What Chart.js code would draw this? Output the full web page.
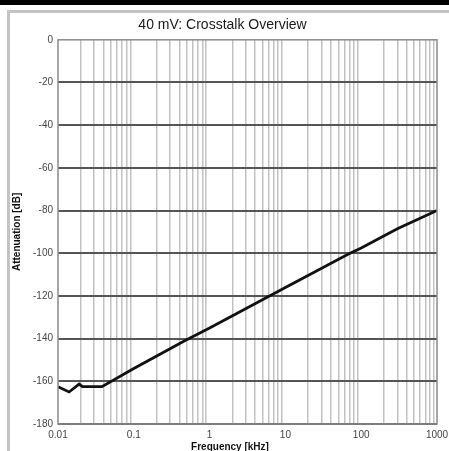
<!DOCTYPE html>
<html>
<head>
<meta charset="utf-8">
<script src="https://cdn.jsdelivr.net/npm/chart.js@4/dist/chart.umd.min.js"></script>
<style>
  body { margin: 0; background: #fff; }
  #wrap { position: relative; width: 449px; height: 451px; overflow: hidden; }
  #topbar { position: absolute; left: 0; top: 0; width: 449px; height: 5px; background: #000; }
  #frame { position: absolute; left: 7px; top: 10px; width: 460px; height: 460px;
           border-left: 3px solid #c4c4c4; border-top: 3px solid #c4c4c4; }
  canvas { position: absolute; left: 0; top: 0; }
</style>
</head>
<body>
<div id="wrap">
  <div id="topbar"></div>
  <div id="frame"></div>
  <canvas id="crosstalk-chart"></canvas>
</div>
<script>
const chartTitle = '40 mV: Crosstalk Overview';
const xTitle = 'Frequency [kHz]';
const yTitle = 'Attenuation [dB]';

// frequency in kHz, attenuation in dB
const freq = [0.01, 0.014, 0.019, 0.021, 0.038, 0.1, 0.47, 1, 10, 67, 100, 300, 1000];
const atten = [-162.5, -165, -161.3, -162.5, -162.5, -154, -141, -135, -116, -100.5, -97.5, -88.5, -80];

const xDecades = [0.01, 0.1, 1, 10, 100, 1000];
const xTickLabels = ['0.01', '0.1', '1', '10', '100', '1000'];
const yTicks = [0, -20, -40, -60, -80, -100, -120, -140, -160, -180];

function isDecade(v) {
    const l = Math.log10(v);
    return Math.abs(l - Math.round(l)) < 1e-9;
}

// border round the plot area + x axis title
const framePlugin = {
    id: 'framePlugin',
    afterDraw(chart) {
        const { ctx, chartArea } = chart;
        ctx.save();
        ctx.strokeStyle = '#8a8a8a';
        ctx.lineWidth = 1.5;
        ctx.strokeRect(chartArea.left, chartArea.top, chartArea.right - chartArea.left, chartArea.bottom - chartArea.top);
        ctx.fillStyle = '#111';
        ctx.font = 'bold 10px "Liberation Sans", Arial, sans-serif';
        ctx.textAlign = 'center';
        ctx.textBaseline = 'middle';
        ctx.fillText(xTitle, 230, 447);
        ctx.restore();
    }
};

const ctx = document.getElementById('crosstalk-chart').getContext('2d');
new Chart(ctx, {
    type: 'line',
    data: {
        datasets: [{
            label: 'Crosstalk',
            data: freq.map((f, i) => ({ x: f, y: atten[i] })),
            borderColor: '#111',
            borderWidth: 2.8,
            pointRadius: 0,
            tension: 0,
            fill: false
        }]
    },
    options: {
        responsive: true,
        maintainAspectRatio: false,
        animation: false,
        layout: { padding: { left: 8, right: 12, top: 0, bottom: 0 } },
        plugins: {
            legend: { display: false },
            tooltip: { enabled: false },
            title: {
                display: true,
                text: chartTitle,
                color: '#1a1a1a',
                font: { family: '"Liberation Sans", Arial, sans-serif', size: 14, weight: 'normal' },
                padding: { top: 17, bottom: 6 }
            }
        },
        scales: {
            x: {
                type: 'logarithmic',
                min: 0.01,
                max: 1000,
                border: { display: false },
                afterFit: s => { s.height = 27; s.paddingLeft = 0; s.paddingRight = 0; },
                afterBuildTicks: s => {
                    const ticks = [];
                    for (let e = -2; e <= 2; e++) {
                        for (let m = 1; m <= 9; m++) ticks.push({ value: m * Math.pow(10, e) });
                    }
                    ticks.push({ value: 1000 });
                    s.ticks = ticks;
                },
                grid: {
                    drawTicks: false,
                    lineWidth: 1.5,
                    color: c => isDecade(c.tick.value) ? 'rgba(0,0,0,0)' : '#c2c2c2'
                },
                ticks: {
                    autoSkip: false,
                    maxRotation: 0,
                    padding: 5,
                    color: '#444',
                    font: { family: '"Liberation Sans", Arial, sans-serif', size: 10 },
                    callback: v => {
                        const i = xDecades.findIndex(d => Math.abs(d - v) / d < 1e-9);
                        return i >= 0 ? xTickLabels[i] : '';
                    }
                }
            },
            y: {
                min: -180,
                max: 0,
                border: { display: false },
                afterFit: s => { s.width = 50; },
                afterBuildTicks: s => { s.ticks = yTicks.map(v => ({ value: v })); },
                grid: {
                    drawTicks: false,
                    lineWidth: 2,
                    color: c => c.tick.value === 0 ? 'rgba(0,0,0,0)' : '#555'
                },
                ticks: {
                    padding: 5,
                    color: '#444',
                    font: { family: '"Liberation Sans", Arial, sans-serif', size: 10 }
                },
                title: {
                    display: true,
                    text: yTitle,
                    color: '#111',
                    font: { family: '"Liberation Sans", Arial, sans-serif', size: 10, weight: 'bold' },
                    padding: { top: 3, bottom: 0 }
                }
            }
        }
    },
    plugins: [framePlugin]
});
</script>
</body>
</html>
